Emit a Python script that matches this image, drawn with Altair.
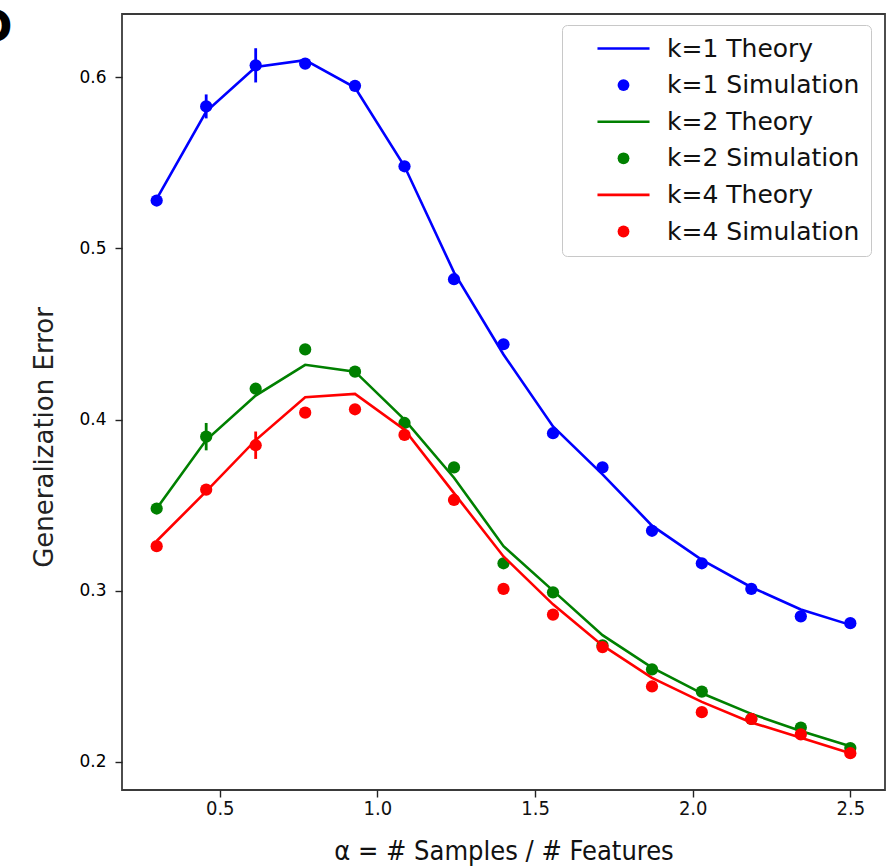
import altair as alt
import pandas as pd

# sample ratio alpha = #samples / #features
alpha = [0.3, 0.457, 0.614, 0.771, 0.929, 1.086, 1.243, 1.4,
         1.557, 1.714, 1.871, 2.029, 2.186, 2.343, 2.5]

k_values = [1, 2, 4]
series_colors = ["#0000ff", "#008000", "#ff0000"]

# theory curves
theory = {
    1: [0.529, 0.580, 0.606, 0.610, 0.594, 0.548, 0.486, 0.438,
        0.396, 0.368, 0.338, 0.318, 0.302, 0.289, 0.280],
    2: [0.348, 0.388, 0.414, 0.432, 0.428, 0.400, 0.366, 0.326,
        0.300, 0.274, 0.255, 0.240, 0.228, 0.218, 0.209],
    4: [0.329, 0.358, 0.388, 0.413, 0.415, 0.394, 0.357, 0.320,
        0.292, 0.268, 0.249, 0.235, 0.223, 0.214, 0.205],
}

# simulation means and error bar half-widths
sim_mean = {
    1: [0.528, 0.583, 0.607, 0.608, 0.595, 0.548, 0.482, 0.444,
        0.392, 0.372, 0.335, 0.316, 0.301, 0.285, 0.281],
    2: [0.348, 0.390, 0.418, 0.441, 0.428, 0.398, 0.372, 0.316,
        0.299, 0.268, 0.254, 0.241, 0.225, 0.220, 0.208],
    4: [0.326, 0.359, 0.385, 0.404, 0.406, 0.391, 0.353, 0.301,
        0.286, 0.267, 0.244, 0.229, 0.225, 0.216, 0.205],
}
sim_err = {
    1: [0.003, 0.007, 0.010, 0.003, 0.003, 0.003, 0.003, 0.003,
        0.003, 0.003, 0.003, 0.003, 0.003, 0.003, 0.003],
    2: [0.003, 0.008, 0.003, 0.003, 0.003, 0.003, 0.003, 0.003,
        0.003, 0.003, 0.003, 0.003, 0.003, 0.003, 0.003],
    4: [0.003, 0.003, 0.008, 0.003, 0.003, 0.003, 0.003, 0.003,
        0.003, 0.003, 0.003, 0.003, 0.003, 0.003, 0.003],
}

panel_letter = ["D"]

legend_labels = []
legend_colors = []
legend_shapes = []
# legend symbol for a theory curve: a thin horizontal bar
line_symbol = "M-4.4,-0.22H4.4V0.22H-4.4Z"
for k, c in zip(k_values, series_colors):
    legend_labels += [f"k={k} Theory", f"k={k} Simulation"]
    legend_colors += [c, c]
    legend_shapes += [line_symbol, "circle"]

theory_rows = []
sim_rows = []
for k in k_values:
    for a, t in zip(alpha, theory[k]):
        theory_rows.append({"alpha": a, "err_value": t, "k": f"k={k}"})
    for a, m, e in zip(alpha, sim_mean[k], sim_err[k]):
        sim_rows.append({"alpha": a, "err_value": m, "lo": m - e, "hi": m + e,
                         "k": f"k={k}", "label": f"k={k} Simulation"})
theory_df = pd.DataFrame(theory_rows)
sim_df = pd.DataFrame(sim_rows)

x_scale = alt.Scale(domain=[0.19, 2.61], nice=False, zero=False)
y_scale = alt.Scale(domain=[0.1835, 0.637], nice=False, zero=False)
stroke_scale = alt.Scale(domain=[f"k={k}" for k in k_values], range=series_colors)

x_axis = alt.Axis(values=[0.5, 1.0, 1.5, 2.0, 2.5], format=".1f", grid=False,
                  domain=False, tickSize=7, tickColor="#222", tickWidth=1.4,
                  labelFont="DejaVu Sans Condensed", labelFontSize=20,
                  labelColor="#111", labelPadding=1,
                  title="α = # Samples / # Features",
                  titleFont="DejaVu Sans Condensed", titleFontSize=27,
                  titleFontWeight="normal", titleColor="#111", titlePadding=20)
y_axis = alt.Axis(values=[0.2, 0.3, 0.4, 0.5, 0.6], format=".1f", grid=False,
                  domain=False, tickSize=7, tickColor="#222", tickWidth=1.4,
                  labelFont="DejaVu Sans", labelFontSize=17, labelColor="#000",
                  labelPadding=9, title="Generalization Error",
                  titleFont="DejaVu Sans", titleFontSize=26, titleY=423,
                  titleFontWeight="normal", titleColor="#222", titlePadding=21)

legend = alt.Legend(title=None, orient="none", legendX=440, legendY=11,
                    padding=11, rowPadding=10.6, labelFont="DejaVu Sans",
                    labelFontSize=25, labelColor="#111", labelLimit=400,
                    symbolSize=140, symbolStrokeWidth=0, symbolOffset=38,
                    labelOffset=31, strokeColor="#c8c8c8", fillColor="white",
                    cornerRadius=5)

base_x = alt.X("alpha:Q", scale=x_scale, axis=x_axis)

layers = []
for k in k_values:
    key = f"k={k}"
    line = alt.Chart(theory_df).transform_filter(alt.datum.k == key).mark_line(
        strokeWidth=2.6
    ).encode(
        x=base_x,
        y=alt.Y("err_value:Q", scale=y_scale, axis=y_axis),
        stroke=alt.Stroke("k:N", scale=stroke_scale, legend=None),
    )
    bars = alt.Chart(sim_df).transform_filter(alt.datum.k == key).mark_rule(
        strokeWidth=2.8
    ).encode(
        x=base_x,
        y=alt.Y("lo:Q", scale=y_scale, axis=y_axis),
        y2="hi:Q",
        stroke=alt.Stroke("k:N", scale=stroke_scale, legend=None),
    )
    pts = alt.Chart(sim_df).transform_filter(alt.datum.k == key).mark_point(
        filled=True, size=150, opacity=1
    ).encode(
        x=base_x,
        y=alt.Y("err_value:Q", scale=y_scale, axis=y_axis),
        color=alt.Color("label:N", scale=alt.Scale(domain=legend_labels, range=legend_colors),
                        legend=legend),
        shape=alt.Shape("label:N", scale=alt.Scale(domain=legend_labels, range=legend_shapes),
                        legend=legend),
    )
    layers += [line, bars, pts]

# panel letter in the top-left corner, outside the plot frame
panel = alt.Chart(pd.DataFrame({"panel": panel_letter})).mark_text(
    font="DejaVu Sans", fontSize=44, fontWeight="bold", color="#000",
    align="left", baseline="alphabetic"
).encode(
    text="panel:N", x=alt.value(-146), y=alt.value(28)
)
layers.append(panel)

chart = alt.layer(*layers).properties(
    width=763,
    height=776,
    autosize=alt.AutoSizeParams(type="none"),
    padding={"left": 122, "top": 14, "right": 6, "bottom": 76},
).configure(
    background="white"
).configure_view(
    stroke="#3a3a3a", strokeWidth=1.8
)

chart.save("out.html", embed_options={"renderer": "svg", "actions": False})
